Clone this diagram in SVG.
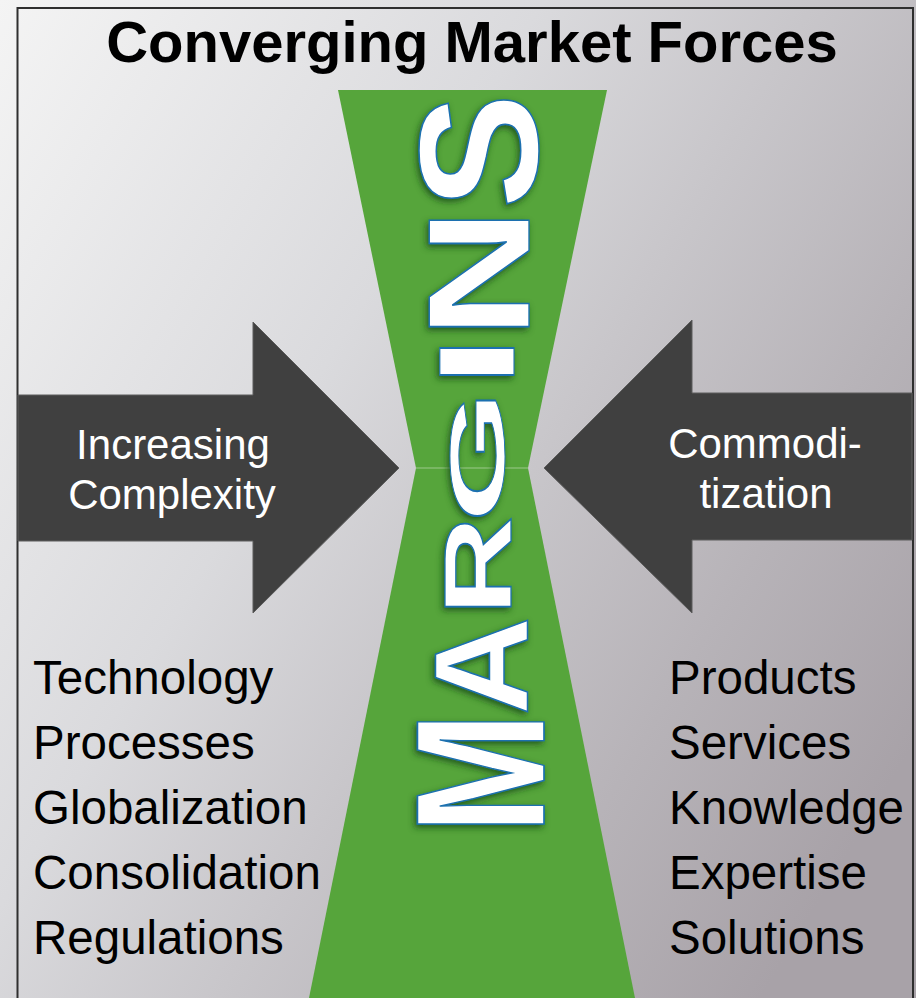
<svg xmlns="http://www.w3.org/2000/svg" width="916" height="998" viewBox="0 0 916 998">
  <defs>
    <linearGradient id="bg" gradientUnits="userSpaceOnUse" x1="0" y1="0" x2="1000" y2="600">
      <stop offset="0" stop-color="#f4f4f4"/>
      <stop offset="0.4" stop-color="#dadadd"/>
      <stop offset="0.6" stop-color="#c8c6ca"/>
      <stop offset="0.8" stop-color="#b7b3b8"/>
      <stop offset="1" stop-color="#a8a2a8"/>
    </linearGradient>
    <filter id="glow" x="-30%" y="-10%" width="160%" height="120%">
      <feDropShadow dx="-2" dy="3" stdDeviation="3" flood-color="#1f4a14" flood-opacity="0.8"/>
    </filter>
    <style>
      .arrow { fill: #404040; stroke: #5c5c5c; stroke-width: 1; }
      .green { fill: #56a53b; }
      .albl { font-family: "Liberation Sans", Arial, sans-serif; font-size: 42px; fill: #ffffff; text-anchor: middle; }
      .list { font-family: "Liberation Sans", Arial, sans-serif; font-size: 47.5px; fill: #000000; }
      .title { font-family: "Liberation Sans", Arial, sans-serif; font-size: 58px; font-weight: bold; fill: #000000; text-anchor: middle; }
      .mg { font-family: "Liberation Sans", Arial, sans-serif; font-size: 100px; font-weight: bold; fill: #ffffff; stroke: #1a70b0; stroke-width: 1.5; vector-effect: non-scaling-stroke; text-anchor: middle; }
    </style>
  </defs>

  <rect x="0" y="0" width="916" height="998" fill="url(#bg)"/>
  <rect id="frame" x="17.5" y="8" width="895.5" height="1010" fill="none" stroke="#2f2f2f" stroke-width="2"/>

  <g id="title">
    <text class="title" x="472" y="62">Converging Market Forces</text>
  </g>

  <g id="margins-shape">
    <polygon class="green" points="338,90 607,90 528,468 416,468"/>
    <polygon class="green" points="416,468 528,468 635,998 309,998"/>
    <line x1="416" y1="468" x2="528" y2="468" stroke="#9cc98c" stroke-width="1.2"/>
  </g>

  <g id="connectors">
    <path id="arrow-left" class="arrow" d="M18,395 L253,395 L253,322 L399,468 L253,613 L253,541 L18,541 Z"/>
    <path id="arrow-right" class="arrow" d="M912,393 L692,393 L692,320 L544,468 L692,613 L692,540 L912,540 Z"/>
  </g>

  <g id="node-complexity">
    <text class="albl" x="173" y="459">Increasing</text>
    <text class="albl" x="172" y="509">Complexity</text>
  </g>

  <g id="node-commoditization">
    <text class="albl" x="765" y="458">Commodi-</text>
    <text class="albl" x="766" y="508">tization</text>
  </g>

  <g id="list-left">
    <text class="list" x="33" y="694">Technology</text>
    <text class="list" x="33" y="759">Processes</text>
    <text class="list" x="33" y="824">Globalization</text>
    <text class="list" x="33" y="889">Consolidation</text>
    <text class="list" x="33" y="954">Regulations</text>
  </g>

  <g id="list-right">
    <text class="list" x="669" y="694">Products</text>
    <text class="list" x="669" y="759">Services</text>
    <text class="list" x="669" y="824">Knowledge</text>
    <text class="list" x="669" y="889">Expertise</text>
    <text class="list" x="669" y="954">Solutions</text>
  </g>

  <g id="node-margins" filter="url(#glow)">
    <text class="mg" x="0" y="35.8" transform="translate(478,773) rotate(-90) scale(1.46,1.84)">M</text>
    <text class="mg" x="0" y="35.8" transform="translate(480,666) rotate(-90) scale(1.36,1.33)">A</text>
    <text class="mg" x="0" y="35.8" transform="translate(477,566) rotate(-90) scale(1.38,0.96)">R</text>
    <text class="mg" x="0" y="35.8" transform="translate(476,456.5) rotate(-90) scale(1.71,0.78)">G</text>
    <text class="mg" x="0" y="35.8" transform="translate(476,361.5) rotate(-90) scale(1.875,1.075)">I</text>
    <text class="mg" x="0" y="35.8" transform="translate(477,273.5) rotate(-90) scale(1.81,1.45)">N</text>
    <text class="mg" x="0" y="35.8" transform="translate(477,151) rotate(-90) scale(1.73,1.68)">S</text>
  </g>
</svg>
